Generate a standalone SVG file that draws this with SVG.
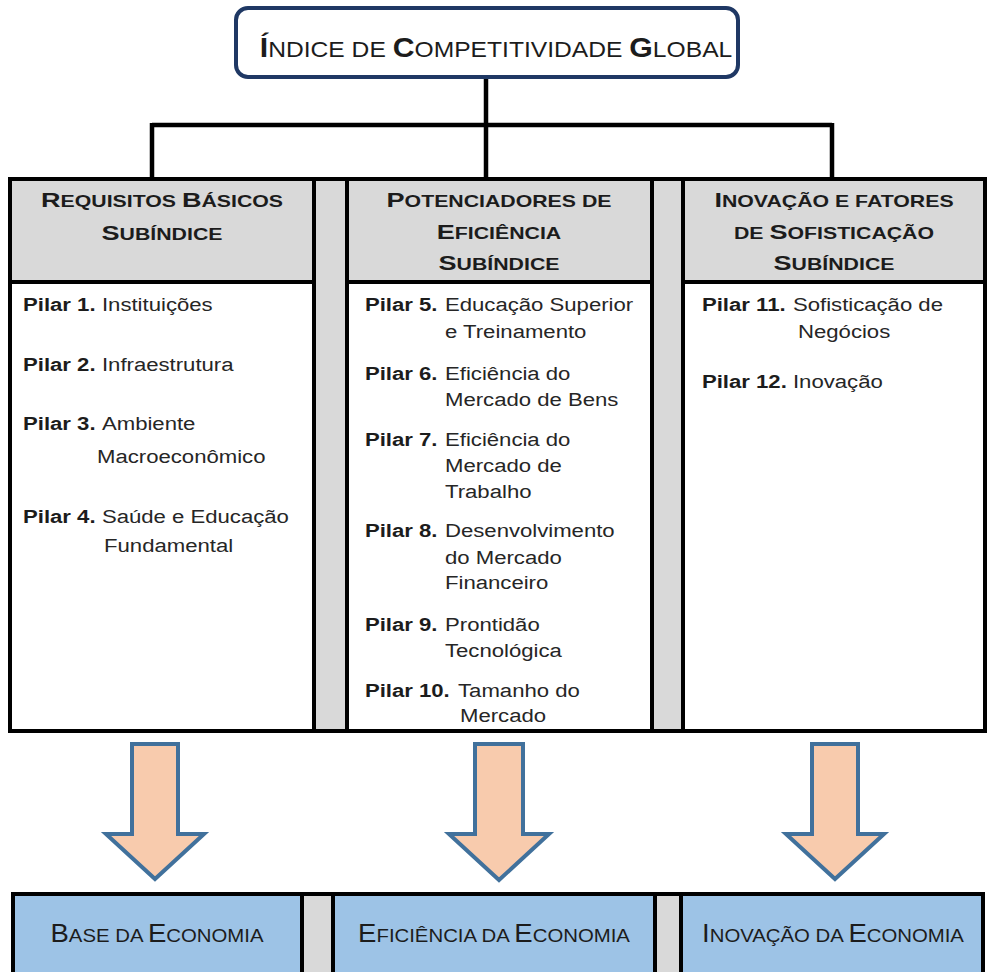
<svg xmlns="http://www.w3.org/2000/svg" width="988" height="972" viewBox="0 0 988 972">
<style>
text{font-family:"Liberation Sans",Arial,sans-serif;fill:#1c1c1c}
.t{font-size:22px}
.tL{font-size:27px;font-weight:bold}
.h{font-size:16.5px;font-weight:bold}
.hL{font-size:21px}
.b{font-size:18px;font-weight:bold}
.r{font-size:18px;fill:#262626}
.f{font-size:18.5px}
.fL{font-size:25px}
.line{stroke:#000;stroke-width:4.5;fill:none}
.hdr{fill:#d9d9d9;stroke:#000;stroke-width:4}
.body{fill:#fff;stroke:#000;stroke-width:4}
.gap{fill:#d9d9d9;stroke:#000;stroke-width:4}
.arrow{fill:#f8cbad;stroke:#41719c;stroke-width:4;stroke-miterlimit:10}
.bot{fill:#9dc3e6;stroke:#000;stroke-width:4}
</style>

<g id="connectors">
<path class="line" d="M486,78 V178 M152,125 H832 M152,123 V178 M832,123 V178"/>
</g>

<g id="title">
<rect x="236" y="8" width="502" height="69" rx="12" ry="12" fill="#fff" stroke="#1f3864" stroke-width="4"/>
<text transform="translate(496 57) scale(1.12 1)" text-anchor="middle"><tspan class="tL">Í</tspan><tspan class="t">NDICE DE </tspan><tspan class="tL">C</tspan><tspan class="t">OMPETITIVIDADE </tspan><tspan class="tL">G</tspan><tspan class="t">LOBAL</tspan></text>
</g>

<g id="gaps">
<rect class="gap" x="314" y="179" width="33" height="552"/>
<rect class="gap" x="652" y="179" width="31" height="552"/>
</g>

<g id="col-basicos">
<rect class="hdr" x="10" y="179" width="304" height="103"/>
<rect class="body" x="10" y="282" width="304" height="449"/>
<text class="h" transform="translate(162 207) scale(1.29 1)" text-anchor="middle"><tspan class="hL">R</tspan>EQUISITOS <tspan class="hL">B</tspan>ÁSICOS</text>
<text class="h" transform="translate(162 240) scale(1.29 1)" text-anchor="middle"><tspan class="hL">S</tspan>UBÍNDICE</text>
<g transform="scale(1.23 1)">
<text class="b" x="18.7" y="311">Pilar 1.</text><text class="r" x="82.9" y="311">Instituições</text>
<text class="b" x="18.7" y="371">Pilar 2.</text><text class="r" x="82.9" y="371">Infraestrutura</text>
<text class="b" x="18.7" y="430">Pilar 3.</text><text class="r" x="82.9" y="430">Ambiente</text>
<text class="r" x="78.9" y="463">Macroeconômico</text>
<text class="b" x="18.7" y="523">Pilar 4.</text><text class="r" x="82.9" y="523">Saúde e Educação</text>
<text class="r" x="84.6" y="552">Fundamental</text>
</g>
</g>

<g id="col-eficiencia">
<rect class="hdr" x="347" y="179" width="305" height="103"/>
<rect class="body" x="347" y="282" width="305" height="449"/>
<text class="h" transform="translate(499 207) scale(1.29 1)" text-anchor="middle"><tspan class="hL">P</tspan>OTENCIADORES DE</text>
<text class="h" transform="translate(499 239) scale(1.29 1)" text-anchor="middle"><tspan class="hL">E</tspan>FICIÊNCIA</text>
<text class="h" transform="translate(499 270) scale(1.29 1)" text-anchor="middle"><tspan class="hL">S</tspan>UBÍNDICE</text>
<g transform="scale(1.23 1)">
<text class="b" x="296.7" y="311">Pilar 5.</text><text class="r" x="361.8" y="311">Educação Superior</text>
<text class="r" x="361.8" y="338">e Treinamento</text>
<text class="b" x="296.7" y="380">Pilar 6.</text><text class="r" x="361.8" y="380">Eficiência do</text>
<text class="r" x="361.8" y="406">Mercado de Bens</text>
<text class="b" x="296.7" y="446">Pilar 7.</text><text class="r" x="361.8" y="446">Eficiência do</text>
<text class="r" x="361.8" y="472">Mercado de</text>
<text class="r" x="361.8" y="498">Trabalho</text>
<text class="b" x="296.7" y="537">Pilar 8.</text><text class="r" x="361.8" y="537">Desenvolvimento</text>
<text class="r" x="361.8" y="564">do Mercado</text>
<text class="r" x="361.8" y="589">Financeiro</text>
<text class="b" x="296.7" y="631">Pilar 9.</text><text class="r" x="361.8" y="631">Prontidão</text>
<text class="r" x="361.8" y="657">Tecnológica</text>
<text class="b" x="296.7" y="697">Pilar 10.</text><text class="r" x="372.4" y="697">Tamanho do</text>
<text class="r" x="374" y="722">Mercado</text>
</g>
</g>

<g id="col-inovacao">
<rect class="hdr" x="683" y="179" width="302" height="103"/>
<rect class="body" x="683" y="282" width="302" height="449"/>
<text class="h" transform="translate(834 207) scale(1.29 1)" text-anchor="middle"><tspan class="hL">I</tspan>NOVAÇÃO E FATORES</text>
<text class="h" transform="translate(834 239) scale(1.29 1)" text-anchor="middle">DE <tspan class="hL">S</tspan>OFISTICAÇÃO</text>
<text class="h" transform="translate(834 270) scale(1.29 1)" text-anchor="middle"><tspan class="hL">S</tspan>UBÍNDICE</text>
<g transform="scale(1.23 1)">
<text class="b" x="570.7" y="311">Pilar 11.</text><text class="r" x="644.7" y="311">Sofisticação de</text>
<text class="r" x="648.8" y="338">Negócios</text>
<text class="b" x="570.7" y="388">Pilar 12.</text><text class="r" x="644.7" y="388">Inovação</text>
</g>
</g>

<g id="arrows">
<path id="arrow-1" class="arrow" d="M132,744 H178 V834 H204 L155,879 L106,834 H132 Z"/>
<path id="arrow-2" class="arrow" d="M475,744 H523 V834 H549 L499,880 L449,834 H475 Z"/>
<path id="arrow-3" class="arrow" d="M812,744 H858 V834 H884 L835,879 L786,834 H812 Z"/>
</g>

<g id="bottom-gaps">
<rect class="gap" x="302" y="894" width="31" height="82"/>
<rect class="gap" x="655" y="894" width="26" height="82"/>
</g>

<g id="base-economia">
<rect class="bot" x="13" y="894" width="289" height="82"/>
<text class="f" transform="translate(157 942) scale(1.1 1)" text-anchor="middle"><tspan class="fL">B</tspan>ASE DA <tspan class="fL">E</tspan>CONOMIA</text>
</g>
<g id="eficiencia-economia">
<rect class="bot" x="333" y="894" width="322" height="82"/>
<text class="f" transform="translate(494 942) scale(1.1 1)" text-anchor="middle"><tspan class="fL">E</tspan>FICIÊNCIA DA <tspan class="fL">E</tspan>CONOMIA</text>
</g>
<g id="inovacao-economia">
<rect class="bot" x="681" y="894" width="302" height="82"/>
<text class="f" transform="translate(833 942) scale(1.1 1)" text-anchor="middle"><tspan class="fL">I</tspan>NOVAÇÃO DA <tspan class="fL">E</tspan>CONOMIA</text>
</g>
</svg>
